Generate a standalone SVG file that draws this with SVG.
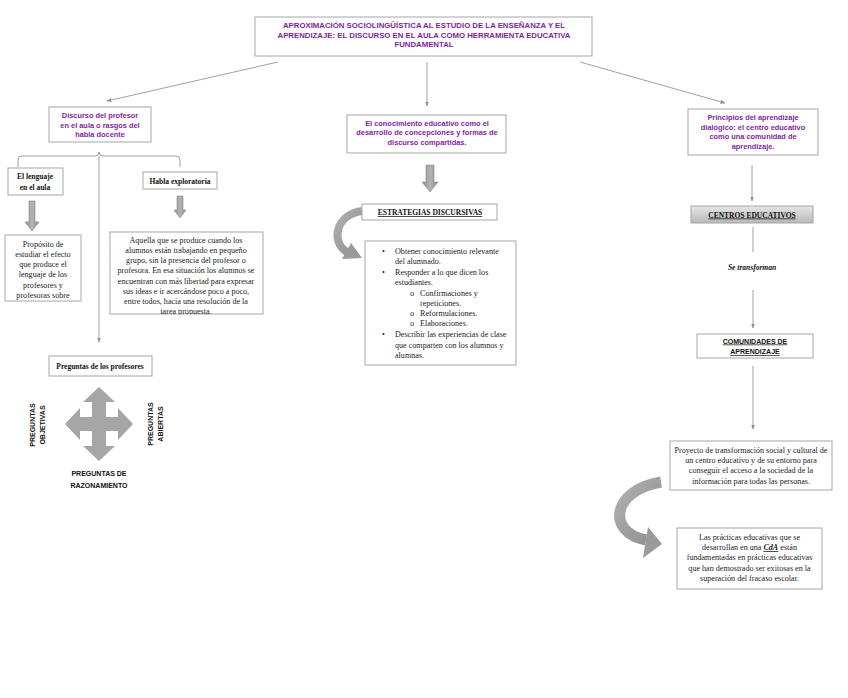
<svg xmlns="http://www.w3.org/2000/svg" width="848" height="698" viewBox="0 0 848 698">
<style>
  .box{fill:#fff;stroke:#a6a6a6;stroke-width:1}
  .pt{font-family:"Liberation Sans",Arial,sans-serif;font-weight:bold;font-size:7.4px;fill:#7f1f9f;text-anchor:middle}
  .tt{font-size:7.8px}
  .st{font-family:"Liberation Serif","Times New Roman",serif;font-size:8.1px;fill:#222}
  .c{text-anchor:middle}
  .sb{font-family:"Liberation Serif","Times New Roman",serif;font-size:7.5px;font-weight:bold;fill:#111;text-anchor:middle}
  .ss{font-family:"Liberation Sans",Arial,sans-serif;font-weight:bold;font-size:7px;fill:#111;text-anchor:middle}
  .ln{fill:none;stroke:#a0a0a0;stroke-width:1}
  .blk{fill:url(#bg);stroke:#8a8a8a;stroke-width:0.6}
</style>
<defs>
  <marker id="ah" viewBox="0 0 10 10" refX="9" refY="5" markerWidth="5" markerHeight="5" orient="auto" markerUnits="userSpaceOnUse">
    <path d="M0,1 L10,5 L0,9 z" fill="#909090"/>
  </marker>
  <linearGradient id="bg" x1="0" y1="0" x2="1" y2="0">
    <stop offset="0" stop-color="#8c8c8c"/>
    <stop offset="0.5" stop-color="#b4b4b4"/>
    <stop offset="1" stop-color="#8c8c8c"/>
  </linearGradient>
  <linearGradient id="cg" x1="0" y1="0" x2="0" y2="1">
    <stop offset="0" stop-color="#e6e6e6"/>
    <stop offset="1" stop-color="#b8b8b8"/>
  </linearGradient>
  <linearGradient id="curv" x1="0" y1="0" x2="1" y2="1">
    <stop offset="0" stop-color="#b0b0b0"/>
    <stop offset="1" stop-color="#8e8e8e"/>
  </linearGradient>
  <clipPath id="clipA"><rect x="110" y="232" width="153" height="82"/></clipPath>
</defs>
<rect width="848" height="698" fill="#fff"/>

<g id="connectors">
  <line class="ln" x1="278" y1="62" x2="107" y2="101" marker-end="url(#ah)"/>
  <line class="ln" x1="427" y1="62" x2="427" y2="106" marker-end="url(#ah)"/>
  <line class="ln" x1="580" y1="62" x2="725" y2="103" marker-end="url(#ah)"/>
  <path class="ln" d="M18 167 L18 160 Q18 156 22 156 L95 156 Q99 156 99 152 Q99 156 103 156 L176 156 Q180 156 180 160 L180 167"/>
  <line class="ln" x1="99" y1="156" x2="99" y2="342" marker-end="url(#ah)"/>
  <line class="ln" x1="752" y1="165" x2="752" y2="201" marker-end="url(#ah)"/>
  <line class="ln" x1="753" y1="227" x2="753" y2="252"/>
  <line class="ln" x1="753" y1="290" x2="753" y2="328" marker-end="url(#ah)"/>
  <line class="ln" x1="753" y1="366" x2="753" y2="429" marker-end="url(#ah)"/>
  <polygon class="blk" points="29,201 35,201 35,222 39,222 32,231 25,222 29,222"/>
  <polygon class="blk" points="177,196 183,196 183,210 186,210 180,218 174,210 177,210"/>
  <polygon class="blk" points="426,165 434,165 434,182 438,182 430,192 422,182 426,182"/>
  <path d="M362 211 C336 214 330 242 347 252" fill="none" stroke="url(#curv)" stroke-width="8"/>
  <polygon points="362,258 351,243 342,259" fill="#9a9a9a"/>
  <path d="M661 482 C612 490 606 532 646 540" fill="none" stroke="url(#curv)" stroke-width="11"/>
  <polygon points="662,544 648,527 643,558" fill="#9a9a9a"/>
  <polygon fill="#a6a6a6" points="99,387 115,402 106,402 106,417 118,417 118,408 133,424 118,440 118,431 106,431 106,446 115,446 99,461 83,446 92,446 92,431 80,431 80,440 65,424 80,408 80,417 92,417 92,402 83,402"/>
</g>

<g id="title">
  <rect class="box" x="255" y="17" width="337" height="39"/>
  <text class="pt tt" x="424" y="28">APROXIMACIÓN SOCIOLINGÜÍSTICA AL ESTUDIO DE LA ENSEÑANZA Y EL</text>
  <text class="pt tt" x="424" y="37.5">APRENDIZAJE: EL DISCURSO EN EL AULA COMO HERRAMIENTA EDUCATIVA</text>
  <text class="pt tt" x="424" y="47">FUNDAMENTAL</text>
</g>

<g id="discurso">
  <rect class="box" x="49" y="107" width="102" height="35"/>
  <text class="pt" x="100" y="118">Discurso del profesor</text>
  <text class="pt" x="100" y="127.5">en el aula o rasgos del</text>
  <text class="pt" x="100" y="137">habla docente</text>
</g>

<g id="lenguaje">
  <rect class="box" x="8" y="168" width="55" height="27"/>
  <text class="sb" x="35" y="179">El lenguaje</text>
  <text class="sb" x="35" y="190">en el aula</text>
</g>

<g id="habla">
  <rect class="box" x="143" y="172" width="74" height="17"/>
  <text class="sb" x="180" y="183.5">Habla exploratoria</text>
</g>

<g id="proposito">
  <rect class="box" x="5" y="235" width="76" height="66"/>
  <g class="st c">
    <text x="43" y="246.5">Propósito de</text>
    <text x="43" y="256.8">estudiar el efecto</text>
    <text x="43" y="267">que produce el</text>
    <text x="43" y="277.3">lenguaje de los</text>
    <text x="43" y="287.5">profesores y</text>
    <text x="43" y="297.8">profesoras sobre</text>
  </g>
</g>

<g id="aquella">
  <rect class="box" x="110" y="232" width="153" height="82"/>
  <g class="st c" clip-path="url(#clipA)">
    <text x="186" y="243">Aquella que se produce cuando los</text>
    <text x="186" y="253">alumnos están trabajando en pequeño</text>
    <text x="186" y="263.2">grupo, sin la presencia del profesor o</text>
    <text x="186" y="273.3">profesora. En esa situación los alumnos se</text>
    <text x="186" y="283.5">encuentran con más libertad para expresar</text>
    <text x="186" y="293.6">sus ideas e ir acercándose poco a poco,</text>
    <text x="186" y="303.8">entre todos, hacia una resolución de la</text>
    <text x="186" y="314">tarea propuesta.</text>
  </g>
</g>

<g id="preguntas">
  <rect class="box" x="49" y="356" width="103" height="20"/>
  <text class="sb" x="100" y="368.5">Preguntas de los profesores</text>
</g>

<g id="preg-labels">
  <text class="ss" transform="translate(34.5,425) rotate(-90)">PREGUNTAS</text>
  <text class="ss" transform="translate(44.5,425) rotate(-90)">OBJETIVAS</text>
  <text class="ss" transform="translate(153,424) rotate(-90)">PREGUNTAS</text>
  <text class="ss" transform="translate(163,424) rotate(-90)">ABIERTAS</text>
  <text class="ss" x="99" y="476">PREGUNTAS DE</text>
  <text class="ss" x="99" y="488">RAZONAMIENTO</text>
</g>

<g id="conocimiento">
  <rect class="box" x="347" y="115" width="159" height="38"/>
  <text class="pt" x="427" y="125.5">El conocimiento educativo como el</text>
  <text class="pt" x="427" y="135">desarrollo de concepciones y formas de</text>
  <text class="pt" x="427" y="144.5">discurso compartidas.</text>
</g>

<g id="estrategias">
  <rect class="box" x="362" y="204" width="135" height="16"/>
  <text class="sb" x="430" y="215" text-decoration="underline">ESTRATEGIAS DISCURSIVAS</text>
</g>

<g id="lista">
  <rect class="box" x="365" y="241" width="151" height="124"/>
  <g class="st">
    <text x="382" y="254">•</text>
    <text x="395" y="254">Obtener conocimiento relevante</text>
    <text x="395" y="264.3">del alumnado.</text>
    <text x="382" y="275">•</text>
    <text x="395" y="275">Responder a lo que dicen los</text>
    <text x="395" y="285.3">estudiantes.</text>
    <text x="410" y="296">o</text>
    <text x="420" y="296">Confirmaciones y</text>
    <text x="420" y="306">repeticiones.</text>
    <text x="410" y="316">o</text>
    <text x="420" y="316">Reformulaciones.</text>
    <text x="410" y="326">o</text>
    <text x="420" y="326">Elaboraciones.</text>
    <text x="382" y="337">•</text>
    <text x="395" y="337">Describir las experiencias de clase</text>
    <text x="395" y="347.5">que comparten con los alumnos y</text>
    <text x="395" y="358">alumnas.</text>
  </g>
</g>

<g id="principios">
  <rect class="box" x="688" y="109" width="130" height="46"/>
  <text class="pt" x="753" y="120">Principios del aprendizaje</text>
  <text class="pt" x="753" y="129.5">dialógico: el centro educativo</text>
  <text class="pt" x="753" y="139">como una comunidad de</text>
  <text class="pt" x="753" y="148.5">aprendizaje.</text>
</g>

<g id="centros">
  <rect x="691" y="206" width="122" height="17" fill="url(#cg)" stroke="#a6a6a6" stroke-width="1"/>
  <text class="sb" x="752" y="217.5" text-decoration="underline">CENTROS EDUCATIVOS</text>
</g>

<g id="se-transforman">
  <text class="sb" x="752" y="269.5" font-style="italic">Se transforman</text>
</g>

<g id="comunidades">
  <rect class="box" x="697" y="334" width="116" height="24"/>
  <text class="ss" x="755" y="343.5" text-decoration="underline">COMUNIDADES DE</text>
  <text class="ss" x="755" y="354" text-decoration="underline">APRENDIZAJE</text>
</g>

<g id="proyecto">
  <rect class="box" x="670" y="441" width="162" height="49"/>
  <g class="st c">
    <text x="751" y="453">Proyecto de transformación social y cultural de</text>
    <text x="751" y="463.2">un centro educativo y de su entorno para</text>
    <text x="751" y="473.4">conseguir el acceso a la sociedad de la</text>
    <text x="751" y="483.6">información para todas las personas.</text>
  </g>
</g>

<g id="practicas">
  <rect class="box" x="677" y="528" width="145" height="61"/>
  <g class="st c">
    <text x="749.5" y="540">Las prácticas educativas que se</text>
    <text x="749.5" y="550.2">desarrollan en una <tspan font-weight="bold" font-style="italic" text-decoration="underline">CdA</tspan> están</text>
    <text x="749.5" y="560.4">fundamentadas en prácticas educativas</text>
    <text x="749.5" y="570.6">que han demostrado ser exitosas en la</text>
    <text x="749.5" y="580.8">superación del fracaso escolar.</text>
  </g>
</g>
</svg>
